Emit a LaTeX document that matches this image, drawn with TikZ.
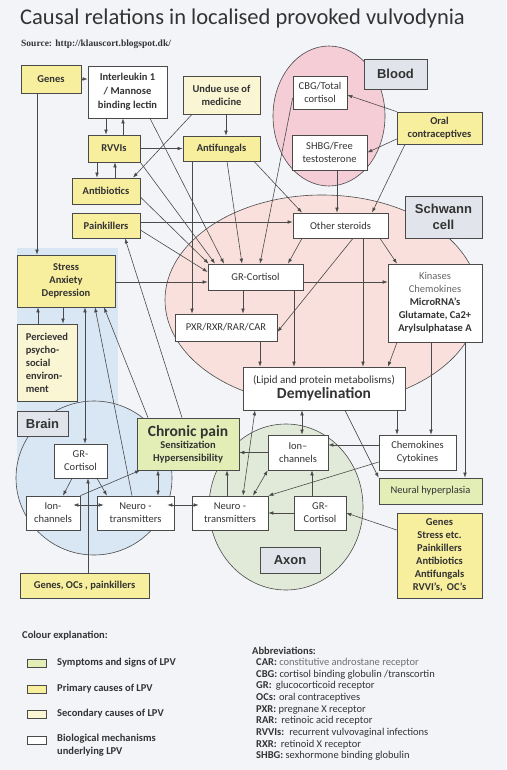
\documentclass[tikz,border=0pt]{standalone}
\usepackage{fontspec}
\setmainfont{Carlito}
\newfontfamily\labelfont{Liberation Sans}
\newfontfamily\srcfont{Liberation Serif}
\usetikzlibrary{arrows.meta,calc}
\definecolor{bg}{HTML}{F2F4F8}
\definecolor{prim}{HTML}{F7EE9E}
\definecolor{seco}{HTML}{FAF5D3}
\definecolor{symp}{HTML}{E3EEB6}
\definecolor{bloodc}{HTML}{F5CDD6}
\definecolor{schw}{HTML}{F9E0DD}
\definecolor{brainc}{HTML}{D9E6F4}
\definecolor{axonc}{HTML}{E1EAD9}
\definecolor{lblc}{HTML}{E2E4EB}
\definecolor{edge}{HTML}{4A4A4A}
\definecolor{txt}{HTML}{333333}
\begin{document}
\begin{tikzpicture}[x=1pt,y=-1pt,
  box/.style={draw=edge, line width=0.7pt, fill=white, align=center, inner sep=1pt, text=txt, font=\fontsize{10.5}{13}\selectfont},
  pri/.style={box, fill=prim, font=\fontsize{10.5}{13}\selectfont\bfseries},
  sec/.style={box, fill=seco, font=\fontsize{10.5}{13}\selectfont\bfseries},
  sym/.style={box, fill=symp},
  lbl/.style={draw=edge, line width=0.7pt, fill=lblc, align=center, inner sep=1pt, text=txt, font=\labelfont\fontsize{13}{15}\selectfont\bfseries},
  sz/.style 2 args={minimum width=#1pt, minimum height=#2pt},
  arr/.style={draw=edge, line width=0.6pt, -{Latex[length=5pt,width=3.6pt]}},
  darr/.style={draw=edge, line width=0.6pt, {Latex[length=5pt,width=3.6pt]}-{Latex[length=5pt,width=3.6pt]}},
  region/.style={draw=edge, line width=0.6pt},
  swatch/.style={draw=edge, line width=0.6pt, minimum width=19pt, minimum height=8pt, inner sep=0pt},
  legtext/.style={anchor=west, inner sep=0pt, text=txt, align=left, font=\fontsize{10.5}{13}\selectfont\bfseries},
  abbr/.style={anchor=west, inner sep=0pt, text=txt, font=\fontsize{10.5}{12}\selectfont}
]
\fill[bg] (0,0) rectangle (506,770);
\useasboundingbox (0,0) rectangle (506,770);

% regions
\fill[brainc] (17,248) rectangle (118,470);
\filldraw[fill=schw, region] (322,300) ellipse [x radius=157, y radius=105];
\filldraw[fill=bloodc, region] (329,116) ellipse [x radius=56, y radius=70];
\filldraw[fill=brainc, region] (94,478) ellipse [x radius=78, y radius=77];
\filldraw[fill=axonc, region] (286,507) ellipse [x radius=77, y radius=83];

% title
\node[anchor=base west, inner sep=0pt, text=txt, font=\fontsize{22.5}{27}\selectfont] (title) at (20,25) {Causal relations in localised provoked vulvodynia};
\node[anchor=base west, inner sep=0pt, text=txt, font=\srcfont\fontsize{9.5}{11}\selectfont\bfseries] (src) at (21,47) {Source: http://klauscort.blogspot.dk/};

% nodes
\node[pri, sz={60}{28}] (genes) at (51,79) {Genes};
\node[box, sz={79}{52}, font=\fontsize{10.5}{14}\selectfont\bfseries] (il) at (127.5,92) {Interleukin 1\\/ Mannose\\binding lectin};
\node[sec, sz={77}{38}] (undue) at (221.5,95) {Undue use of\\medicine};
\node[box, sz={54}{33}] (cbg) at (320,92.5) {CBG/Total\\cortisol};
\node[lbl, sz={63}{30}] (bloodlbl) at (395.5,74) {Blood};
\node[box, sz={75}{35}] (shbg) at (329.5,152.5) {SHBG/Free\\testosterone};
\node[pri, sz={85}{32}] (oral) at (439.5,128) {Oral\\contraceptives};
\node[pri, sz={52}{27}] (rvvis) at (114,148.5) {RVVIs};
\node[pri, sz={77}{25}] (antifungals) at (221.5,148.5) {Antifungals};
\node[pri, sz={68}{26}] (antibiotics) at (106,191) {Antibiotics};
\node[pri, sz={68}{25}] (painkillers) at (106,225.5) {Painkillers};
\node[lbl, sz={77}{42}, font=\labelfont\fontsize{13}{16}\selectfont\bfseries] (schwlbl) at (443.5,217) {Schwann\\cell};
\node[box, sz={95}{25}] (other) at (340.5,225.5) {Other steroids};
\node[box, sz={95}{26}] (grc) at (255.5,277) {GR-Cortisol};
\node[box, sz={94}{78}] (kin) at (435,303) {{\color{txt!75}Kinases}\\{\color{txt!75}Chemokines}\\\textbf{MicroRNA’s}\\\textbf{Glutamate, Ca2+}\\\textbf{Arylsulphatase A}};
\node[box, sz={102}{27}] (pxr) at (226,327.5) {PXR/RXR/RAR/CAR};
\node[box, sz={162}{43}, font=\fontsize{11}{15}\selectfont] (demy) at (324,388.5) {(Lipid and protein metabolisms)\\{\fontsize{15.5}{17}\selectfont\bfseries Demyelination}};
\node[pri, sz={98}{52}] (stress) at (66,281) {Stress\\Anxiety\\Depression};
\node[sec, sz={60}{77}, align=left] (perc) at (47,362.5) {Percieved\\psycho-\\social\\environ-\\ment};
\node[lbl, sz={51}{25}] (brainlbl) at (42.5,423.5) {Brain};
\node[sym, sz={102}{52}, font=\fontsize{10.5}{12.5}\selectfont\bfseries] (chronic) at (188,444) {{\fontsize{15.5}{17}\selectfont Chronic pain}\\Sensitization\\Hypersensibility};
\node[box, sz={53}{34}] (grb) at (80.5,461) {GR-\\Cortisol};
\node[box, sz={54}{34}] (ionb) at (53,513) {Ion-\\channels};
\node[box, sz={77}{34}] (ntb) at (135.5,513) {Neuro -\\transmitters};
\node[pri, sz={129}{25}] (genes2) at (84.5,585.5) {Genes, OCs , painkillers};
\node[box, sz={60}{35}] (iona) at (298,452.5) {Ion–\\channels};
\node[box, sz={77}{35}] (chemo) at (417.5,452.5) {Chemokines\\Cytokines};
\node[sym, sz={103}{26}] (neural) at (430.5,491) {Neural hyperplasia};
\node[box, sz={76}{34}] (nta) at (230,513) {Neuro -\\transmitters};
\node[box, sz={52}{34}] (gra) at (320,513) {GR-\\Cortisol};
\node[lbl, sz={60}{26}] (axonlbl) at (290,560) {Axon};
\node[pri, sz={85}{85}] (genes3) at (439.5,555.5) {Genes\\Stress etc.\\Painkillers\\Antibiotics\\Antifungals\\RVVI’s,\, OC’s};

% connectors
\draw[arr] (genes.east) -- (genes.east -| il.west);
\draw[arr] ([xshift=-14pt]genes.south) -- ([xshift=-29pt]stress.north);
\draw[arr] ([xshift=-21.5pt]il.south) -- ([xshift=-8pt]rvvis.north);
\draw[arr] ([xshift=9pt]rvvis.north) -- ([xshift=-4.5pt]il.south);
\draw[arr] ([xshift=-17pt]rvvis.south) -- ([xshift=-9pt]antibiotics.north);
\draw[arr] ([xshift=9pt]antibiotics.north) -- ([xshift=1pt]rvvis.south);
\draw[arr] (rvvis.east) -- (rvvis.east -| antifungals.west);
\draw[arr] ([xshift=4.5pt]undue.south) -- ([xshift=4.5pt]antifungals.north);
\draw[arr] ([xshift=-29.5pt]undue.south) -- ([xshift=27pt]antibiotics.north);
\draw[arr] ([xshift=22.5pt]il.south) -- ([xshift=-31.5pt]grc.north);
\draw[arr] (rvvis.south east) -- ([xshift=-40.5pt]grc.north);
\draw[arr] ([yshift=-6pt]antibiotics.east) -- ([xshift=1pt]grc.north west);
\draw[arr] ([yshift=-4.5pt]painkillers.east) -- ([yshift=5pt]grc.west);
\draw[arr] ([yshift=3.5pt]painkillers.east) -- ([yshift=3.5pt]other.west);
\draw[arr] ([xshift=-29.5pt]antifungals.south) -- ([xshift=-34pt]pxr.north);
\draw[arr] ([xshift=5.5pt]antifungals.south) -- ([xshift=-13.5pt]grc.north);
\draw[arr] ([xshift=32.5pt]antifungals.south) -- ([xshift=-38.5pt]other.north);
\draw[arr] ([yshift=-5.5pt]cbg.west) -- ([xshift=4.5pt]grc.north);
\draw[arr] (oral.north west) -- ([yshift=-2.5pt]cbg.east);
\draw[arr] ([yshift=-11pt]oral.west) -- (shbg.east);
\draw[arr] ([xshift=-34.5pt]oral.south) -- ([xshift=31.5pt]other.north);
\draw[arr] ([xshift=7.5pt]shbg.south) -- ([xshift=-3.5pt]other.north);
\draw[arr] ([xshift=-38.5pt]other.south) -- ([xshift=32.5pt]grc.north);
\draw[arr] ([xshift=39.5pt]other.south) -- ([xshift=-38pt]kin.north);
\draw[arr] ([xshift=12.5pt]other.south) -- ([yshift=-4.5pt]pxr.east);
\draw[arr] ([xshift=22.5pt]other.south) -- ([xshift=39pt]demy.north);
\draw[arr] ([yshift=-5pt]grc.east) -- ([yshift=21pt]kin.west);
\draw[arr] ([xshift=-12.5pt]grc.south) -- ([xshift=17pt]pxr.north);
\draw[arr] ([xshift=38.5pt]grc.south) -- ([xshift=-30pt]demy.north);
\draw[arr] ([xshift=34pt]pxr.south) -- ([xshift=-64pt]demy.north);
\draw[arr] ([xshift=-38pt]kin.south) -- ([xshift=64pt]demy.north);
\draw[arr] ([xshift=-4pt]kin.south) -- ([xshift=13.5pt]chemo.north);
\draw[arr] ([xshift=30pt]kin.south) -- ([xshift=34.5pt]neural.north);
\draw[arr] ([xshift=73pt]demy.south) -- ([xshift=-20.5pt]chemo.north);
\draw[darr] ([xshift=-22pt]demy.south) -- ([xshift=4pt]iona.north);
\draw[arr] ([xshift=21pt]demy.south) -- (neural.north west);
\draw[arr] ([yshift=7.5pt]chemo.west) -- ([yshift=7.5pt]iona.east);
\draw[arr] ([yshift=-9.5pt]chemo.west) -- (nta.north east);
\draw[darr] (iona.south west) -- ([xshift=23pt]nta.north);
\draw[darr] ([xshift=-69pt]demy.south) -- ([xshift=13pt]nta.north);
\draw[arr] ([xshift=-8pt]gra.north) -- ([xshift=14pt]iona.south);
\draw[arr] (gra.west) -- (nta.east);
\draw[arr] ([yshift=25.5pt]genes3.west) -- (gra.east);
\draw[arr] (iona.west) -- (iona.west -| chronic.east);
\draw[arr] ([xshift=-3pt]nta.north) -- ([xshift=39pt]chronic.south);
\draw[darr] ([xshift=-30pt]chronic.south) -- ([xshift=22.5pt]ntb.north);
\draw[darr, shorten <=-7pt, shorten >=-7pt] ([yshift=8pt]ionb.east) -- ([yshift=8pt]ntb.west);
\draw[darr, shorten <=-7pt, shorten >=-7pt] ([yshift=8pt]ntb.east) -- ([yshift=8pt]nta.west);
\draw[arr] ([xshift=-8.5pt]grb.south) -- ([xshift=10pt]ionb.north);
\draw[arr] ([xshift=16.5pt]grb.south) -- ([xshift=-28.5pt]ntb.north);
\draw[arr] ([xshift=3.5pt]genes2.north) -- ([xshift=7.5pt]grb.south);
\draw[arr] (ionb.north east) -- ([xshift=-48pt]chronic.south);
\draw[darr] ([xshift=19pt]stress.south) -- ([xshift=4.5pt]grb.north);
\draw[arr] ([xshift=-3pt]stress.south) -- ([xshift=16pt]perc.north);
\draw[arr] ([xshift=-9pt]perc.north) -- ([xshift=-28pt]stress.south);
\draw[arr] ([xshift=-3.5pt]ntb.north) -- ([xshift=29pt]stress.south);
\draw[arr] ([xshift=-40pt]chronic.north) -- ([xshift=38pt]stress.south);
\draw[arr] ([xshift=-6pt]chronic.north) -- ([xshift=19pt]painkillers.south);
\draw[arr] ([yshift=-1pt]stress.east) -- ([yshift=-5pt]grc.west);

% legend
\node[legtext] (legtitle) at (22,636) {Colour explanation:};
\node[swatch, fill=symp] (sw1) at (36.5,663) {};
\node[swatch, fill=prim] (sw2) at (36.5,689) {};
\node[swatch, fill=seco] (sw3) at (36.5,714) {};
\node[swatch, fill=white] (sw4) at (36.5,740) {};
\node[legtext] (lt1) at (57,663) {Symptoms and signs of LPV};
\node[legtext] (lt2) at (57,689) {Primary causes of LPV};
\node[legtext] (lt3) at (57,714) {Secondary causes of LPV};
\node[legtext, anchor=north west] (lt4) at (57,734) {Biological mechanisms\\underlying LPV};

\node[abbr, font=\fontsize{10.5}{12}\selectfont\bfseries] (abt) at (252,651) {Abbreviations:};
\node[abbr] (ab1) at (256,663) {\textbf{CAR:} {\color{txt!70}constitutive androstane receptor}};
\node[abbr] (ab2) at (256,674.5) {\textbf{CBG:} cortisol binding globulin /transcortin};
\node[abbr] (ab3) at (256,686) {\textbf{GR:}\, glucocorticoid receptor};
\node[abbr] (ab4) at (256,698) {\textbf{OCs:} oral contraceptives};
\node[abbr] (ab5) at (256,709.5) {\textbf{PXR:} pregnane X receptor};
\node[abbr] (ab6) at (256,721) {\textbf{RAR:}\, retinoic acid receptor};
\node[abbr] (ab7) at (256,733) {\textbf{RVVIs:}\, recurrent vulvovaginal infections};
\node[abbr] (ab8) at (256,744.5) {\textbf{RXR:}\, retinoid X receptor};
\node[abbr] (ab9) at (256,756) {\textbf{SHBG:} sexhormone binding globulin};
\end{tikzpicture}
\end{document}
